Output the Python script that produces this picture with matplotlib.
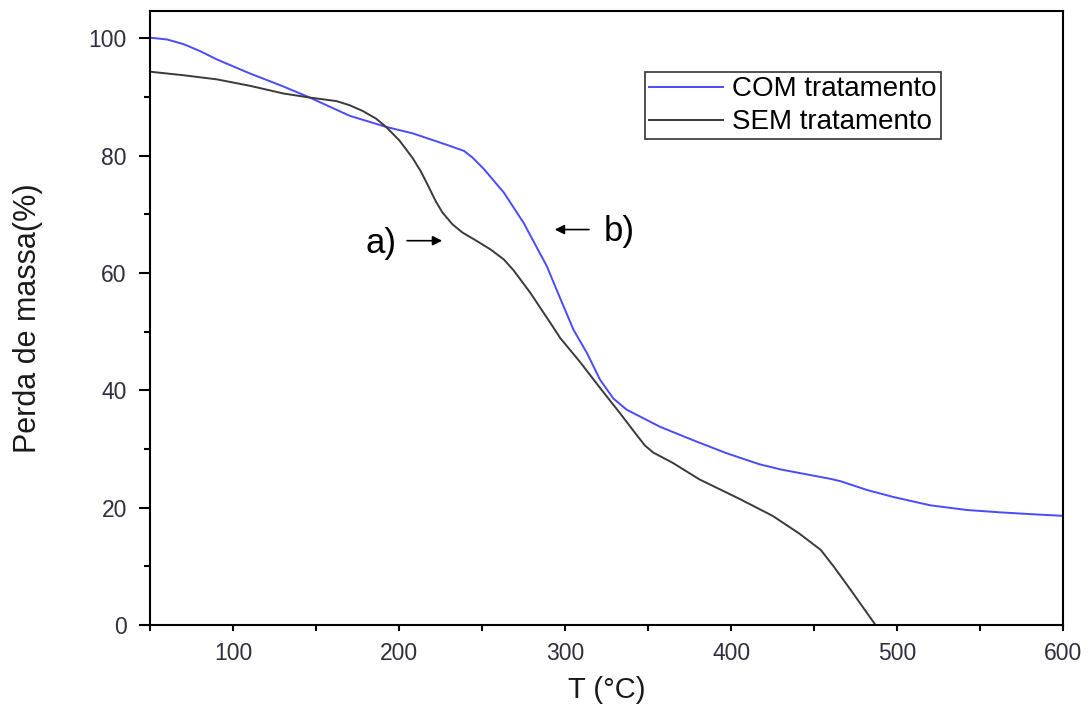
import matplotlib
matplotlib.use("Agg")
import matplotlib.pyplot as plt
from matplotlib.ticker import MultipleLocator

# TGA curves
T_COM = [50, 60, 70, 80, 90, 110, 130, 146, 170, 192, 208, 228, 239, 244, 251,
         263, 275, 289, 295, 305, 313, 321, 329, 337, 357, 377, 397, 417, 430,
         445, 460, 466, 482, 498, 520, 542, 562, 580, 600]
M_COM = [100.1, 99.8, 99.0, 97.8, 96.4, 94.0, 91.8, 89.9, 86.8, 84.9, 83.8, 81.9,
         80.8, 79.7, 77.7, 73.7, 68.5, 61.1, 57.0, 50.3, 46.4, 41.8, 38.6, 36.7,
         33.8, 31.5, 29.3, 27.4, 26.5, 25.7, 24.9, 24.5, 23.0, 21.8, 20.4, 19.6,
         19.2, 18.9, 18.6]

T_SEM = [50, 70, 90, 110, 130, 146, 162, 170, 178, 186, 192, 200, 208, 213, 218,
         222, 226, 232, 238, 247, 255, 263, 269, 279, 291, 297, 309, 321, 333,
         343, 348, 353, 365, 381, 405, 425, 441, 454, 462, 472, 487]
M_SEM = [94.3, 93.7, 93.0, 91.9, 90.6, 89.9, 89.3, 88.6, 87.6, 86.3, 84.9, 82.6,
         79.6, 77.3, 74.5, 72.2, 70.3, 68.3, 66.9, 65.4, 64.0, 62.3, 60.4, 56.6,
         51.5, 48.9, 44.8, 40.4, 36.1, 32.4, 30.6, 29.4, 27.6, 24.8, 21.5, 18.6,
         15.6, 12.8, 9.9, 6.0, 0.0]

LABELS = ["COM tratamento", "SEM tratamento"]

plt.rcParams['font.family'] = ['Liberation Sans', 'DejaVu Sans']

fig = plt.figure(figsize=(10.92, 7.15), dpi=100)
ax = fig.add_axes([0.1378, 0.1259, 0.8356, 0.8591])

ax.plot(T_COM, M_COM, color='#4a4aff', lw=1.4, label=LABELS[0])
ax.plot(T_SEM, M_SEM, color='#3a3a3a', lw=1.4, label=LABELS[1])

ax.set_xlim(50, 600)
ax.set_ylim(0, 104.7)
ax.xaxis.set_major_locator(MultipleLocator(100))
ax.xaxis.set_minor_locator(MultipleLocator(50))
ax.yaxis.set_major_locator(MultipleLocator(20))
ax.yaxis.set_minor_locator(MultipleLocator(10))
ax.tick_params(which='both', direction='out', width=1.5,
               labelsize=16.5, labelcolor='#2f2f3f')
ax.tick_params(axis='x', which='major', length=4.5, pad=8)
ax.tick_params(axis='x', which='minor', length=4)
ax.tick_params(axis='y', which='major', length=8, pad=9)
ax.tick_params(axis='y', which='minor', length=4.5)
ax.tick_params(top=False, right=False, which='both')
for s in ax.spines.values():
    s.set_linewidth(1.5)

ax.set_xlabel('T (°C)', fontsize=21, labelpad=8, color='#1a1a1a')
ax.set_ylabel('Perda de massa(%)', fontsize=22, labelpad=33, color='#1a1a1a')

# annotations
ax.annotate('', xy=(227.5, 65.5), xytext=(203, 65.5),
            arrowprops=dict(arrowstyle='-|>', color='black', lw=1.2,
                            mutation_scale=14))
ax.text(198.5, 65.0, 'a)', fontsize=25, ha='right', va='center')
ax.annotate('', xy=(292, 67.4), xytext=(316, 67.4),
            arrowprops=dict(arrowstyle='-|>', color='black', lw=1.2,
                            mutation_scale=14))
ax.text(323.4, 67.0, 'b)', fontsize=25, ha='left', va='center')

leg = ax.legend(loc='upper left', bbox_to_anchor=(0.542, 0.90), fontsize=20,
                frameon=True, fancybox=False, edgecolor='#333333',
                handlelength=2.66, handletextpad=0.32, borderpad=0.15,
                labelspacing=0.25, borderaxespad=0, framealpha=1)
leg.get_frame().set_linewidth(1.2)

fig.savefig('out.png', dpi=100)
